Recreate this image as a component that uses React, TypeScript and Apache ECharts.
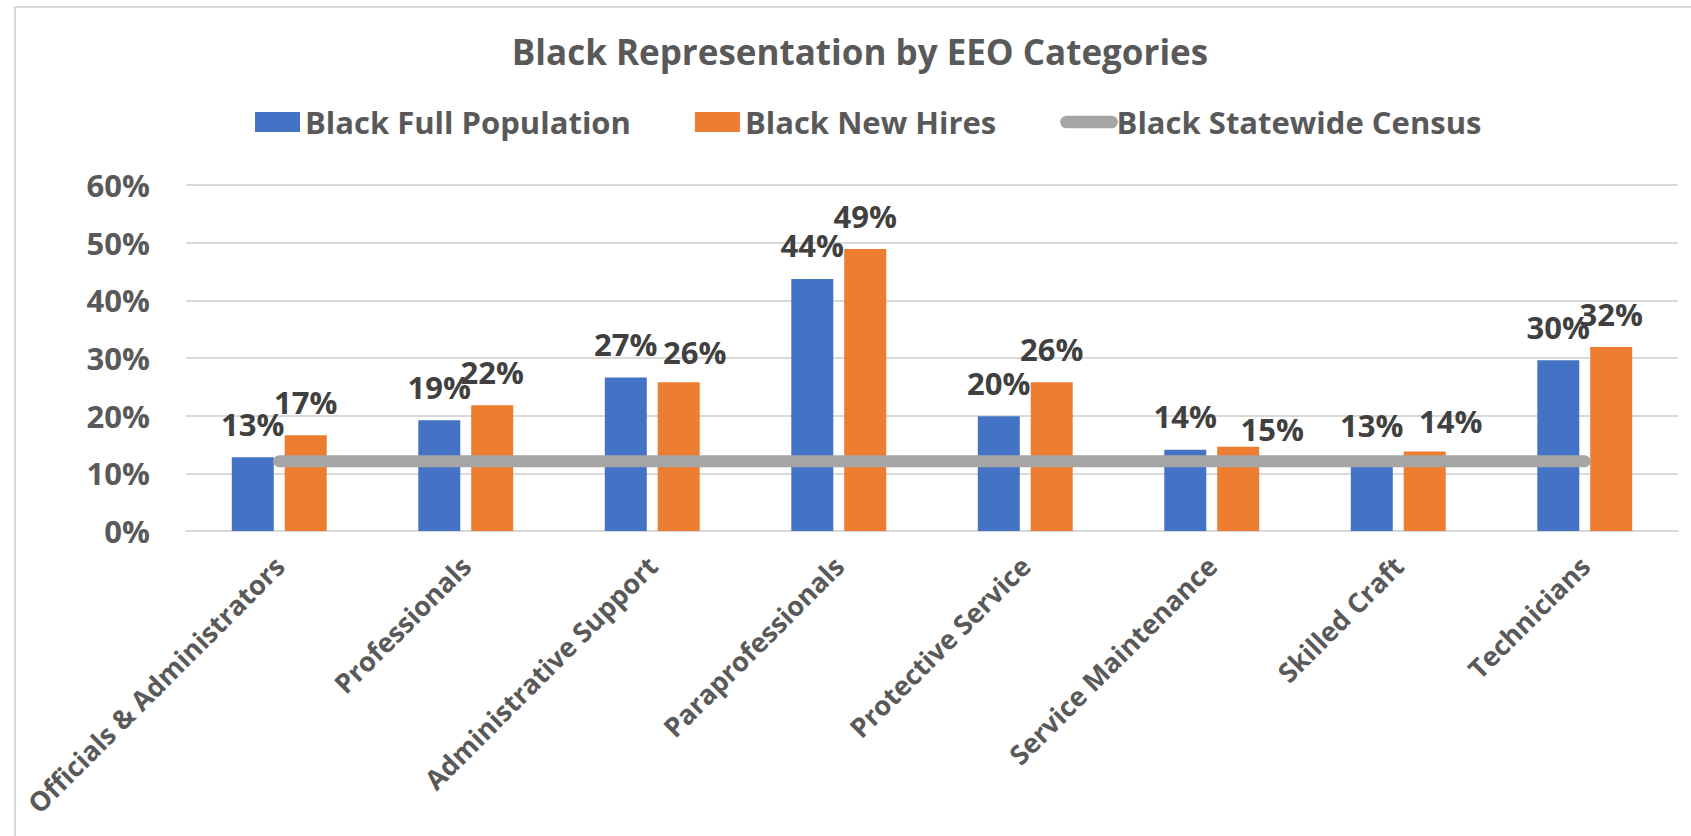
import React, { useEffect, useRef } from "react";
import * as echarts from "echarts";

const titleText = "Black Representation by EEO Categories";
const categories = [
  "Officials & Administrators",
  "Professionals",
  "Administrative Support",
  "Paraprofessionals",
  "Protective Service",
  "Service Maintenance",
  "Skilled Craft",
  "Technicians",
];
const seriesNames = ["Black Full Population", "Black New Hires", "Black Statewide Census"];
const fullPopulation = [12.8, 19.2, 26.6, 43.7, 19.9, 14.1, 12.6, 29.6];
const newHires = [16.6, 21.8, 25.8, 48.9, 25.8, 14.6, 13.8, 31.9];
const statewideCensus = [12.1, 12.1, 12.1, 12.1, 12.1, 12.1, 12.1, 12.1];
const yTicks = { min: 0, max: 60, interval: 10 };

const FONT = "'Open Sans', 'Noto Sans', sans-serif";
const AXIS_GRAY = "#595959";
const LABEL_DARK = "#404040";
const GRID_GRAY = "#D9D9D9";

// manual nudges of a few data labels (as in the original chart)
const newHireLabelNudge: Record<number, [number, number]> = {
  2: [16, 3],
  5: [34, 16],
  6: [26, 3],
};

export default function App() {
  const ref = useRef<HTMLDivElement>(null);

  useEffect(() => {
    if (!ref.current) return;
    const chart = echarts.init(ref.current, undefined, { renderer: "svg" });

    const labelBase = {
      show: true,
      position: "top",
      distance: 18,
      fontFamily: FONT,
      fontSize: 31,
      fontWeight: "bold",
      color: LABEL_DARK,
      formatter: (p: any) => Math.round(p.value) + "%",
    };

    chart.setOption({
      animation: false,
      backgroundColor: "#FFFFFF",
      graphic: [
        {
          type: "rect",
          shape: { x: 15, y: 7, width: 2000, height: 2000 },
          style: { fill: "none", stroke: GRID_GRAY, lineWidth: 2 },
          silent: true,
          z: -1,
        },
        {
          type: "text",
          x: 860,
          y: 51,
          style: {
            text: titleText,
            align: "center",
            verticalAlign: "middle",
            fontFamily: FONT,
            fontSize: 35,
            fontWeight: "bold",
            fill: AXIS_GRAY,
          },
        },
      ],
      legend: {
        left: 255,
        top: 106,
        padding: 0,
        itemGap: 64,
        itemWidth: 45,
        itemHeight: 20,
        textStyle: {
          fontFamily: FONT,
          fontSize: 31,
          fontWeight: "bold",
          color: AXIS_GRAY,
          lineHeight: 32,
        },
        data: [
          { name: seriesNames[0], icon: "rect" },
          { name: seriesNames[1], icon: "rect" },
          {
            name: seriesNames[2],
            icon: "inherit",
            itemStyle: { opacity: 0 },
            lineStyle: { width: 12.7, cap: "round" },
          },
        ],
      },
      grid: { left: 186, right: 13, top: 185, bottom: 305 },
      xAxis: {
        type: "category",
        data: categories,
        axisLine: { lineStyle: { color: GRID_GRAY, width: 2 } },
        axisTick: { show: false },
        axisLabel: {
          interval: 0,
          rotate: 45,
          margin: 30,
          fontFamily: FONT,
          fontSize: 27,
          fontWeight: "bold",
          color: AXIS_GRAY,
        },
      },
      yAxis: {
        type: "value",
        min: yTicks.min,
        max: yTicks.max,
        interval: yTicks.interval,
        axisLine: { show: false },
        axisTick: { show: false },
        splitLine: { lineStyle: { color: GRID_GRAY, width: 2 } },
        axisLabel: {
          margin: 36,
          formatter: "{value}%",
          fontFamily: FONT,
          fontSize: 31,
          fontWeight: "bold",
          color: AXIS_GRAY,
        },
      },
      series: [
        {
          name: seriesNames[0],
          type: "bar",
          data: fullPopulation,
          barWidth: 42,
          barGap: "26%",
          itemStyle: { color: "#4472C4" },
          label: labelBase,
        },
        {
          name: seriesNames[1],
          type: "bar",
          data: newHires.map((v, i) =>
            newHireLabelNudge[i] ? { value: v, label: { offset: newHireLabelNudge[i] } } : v
          ),
          barWidth: 42,
          barGap: "26%",
          itemStyle: { color: "#ED7D31" },
          label: labelBase,
        },
        {
          name: seriesNames[2],
          type: "line",
          data: statewideCensus,
          symbol: "none",
          z: 5,
          lineStyle: { color: "#A5A5A5", width: 12, cap: "round" },
          itemStyle: { color: "#A5A5A5" },
        },
      ],
    });

    return () => chart.dispose();
  }, []);

  return (
    <div
      ref={ref}
      style={{ position: "absolute", left: 0, top: 0, width: 1691, height: 836 }}
    />
  );
}
